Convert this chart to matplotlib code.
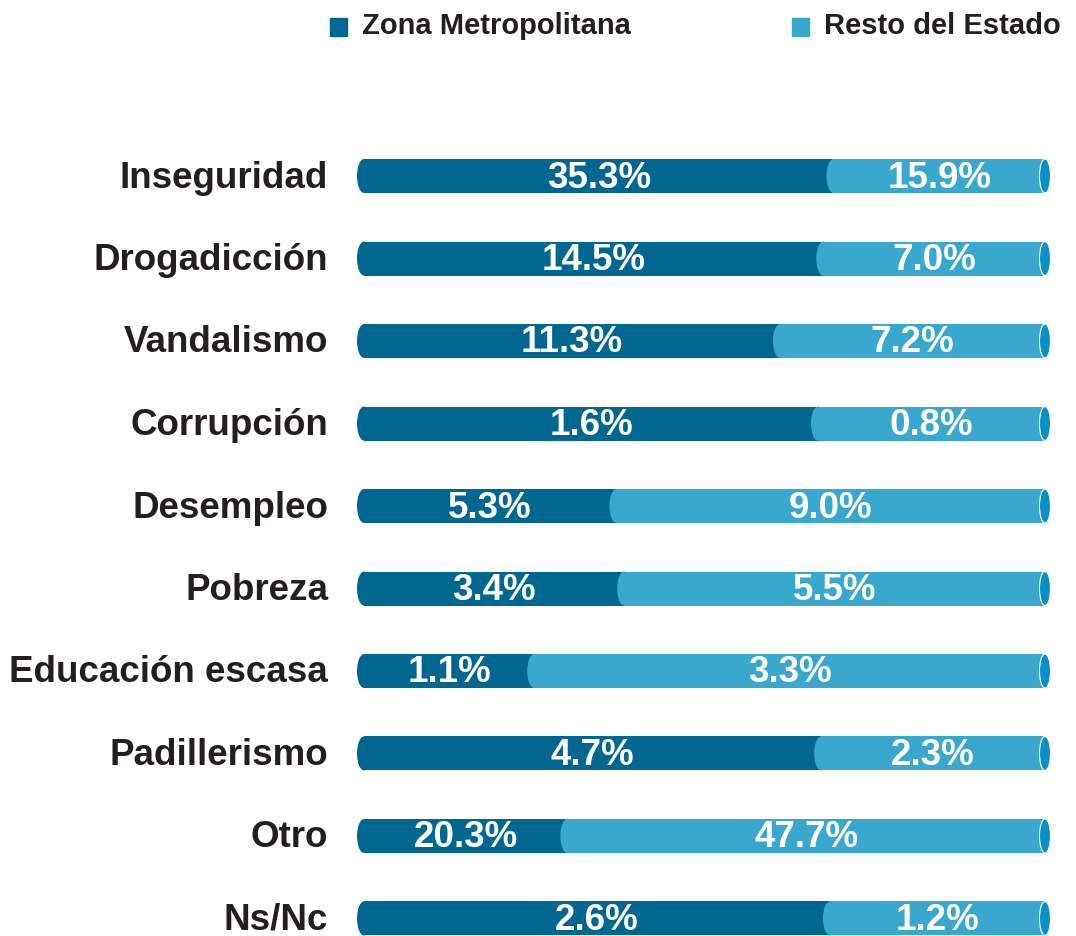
import matplotlib.pyplot as plt
import numpy as np
from matplotlib.patches import Ellipse, Rectangle

plt.rcParams['font.family'] = ['Liberation Sans', 'DejaVu Sans']

# DATOS
categorias = ["Inseguridad", "Drogadicción", "Vandalismo", "Corrupción", "Desempleo",
              "Pobreza", "Educación escasa", "Padillerismo", "Otro", "Ns/Nc"]
zona_metro = [35.3, 14.5, 11.3, 1.6, 5.3, 3.4, 1.1, 4.7, 20.3, 2.6]
resto_estado = [15.9, 7.0, 7.2, 0.8, 9.0, 5.5, 3.3, 2.3, 47.7, 1.2]
series = ["Zona Metropolitana", "Resto del Estado"]

c_dark = '#006890'
c_light = '#38a8cf'
c_cap = '#0a8fc7'
c_text = '#231f20'

W, H = 1076, 936
fig = plt.figure(figsize=(W / 100, H / 100), dpi=100)

# ejes: x = proporcion (0..1) entre 364 px y 1045 px
x0_px, x1_px = 364, 1045
ax = fig.add_axes([x0_px / W, 0, (x1_px - x0_px) / W, 1])
top_px, step_px = 176, 82.5
ax.set_ylim((H - top_px) / step_px, -top_px / step_px)
ax.set_xlim(0, 1)
ax.axis('off')

n = len(categorias)
y = np.arange(n)
zm = np.array(zona_metro)
re = np.array(resto_estado)
frac = zm / (zm + re)

bar_h = 34 / step_px
ell_w = 14 / (x1_px - x0_px)
cap_w = 11 / (x1_px - x0_px)
dy = 2 / step_px  # pequeño ajuste vertical del texto

for i in range(n):
    # tramo oscuro con extremo izquierdo redondeado
    ax.barh(y[i], frac[i], height=bar_h, color=c_dark, lw=0, zorder=2)
    ax.add_patch(Ellipse((0, y[i]), ell_w, bar_h, color=c_dark, lw=0, zorder=2, clip_on=False))
    # tramo claro
    ax.barh(y[i], 1 - frac[i], left=frac[i], height=bar_h, color=c_light, lw=0, zorder=3)
    ax.add_patch(Ellipse((frac[i], y[i]), ell_w, bar_h, color=c_light, lw=0, zorder=3, clip_on=False))
    # tapa derecha
    ax.add_patch(Ellipse((1, y[i]), cap_w, bar_h, facecolor=c_cap, edgecolor='white', lw=0.8,
                         zorder=4, clip_on=False))

    ax.text(frac[i] / 2, y[i] + dy, f"{zm[i]:.1f}%", ha='center', va='center', color='white',
            fontsize=26.5, fontweight='bold', zorder=5)
    ax.text((1 + frac[i]) / 2, y[i] + dy, f"{re[i]:.1f}%", ha='center', va='center', color='white',
            fontsize=26.5, fontweight='bold', zorder=5)
    ax.text(-36 / (x1_px - x0_px), y[i] + dy, categorias[i], ha='right', va='center', color=c_text,
            fontsize=26.5, fontweight='bold', clip_on=False)

# LEYENDA
for sq_x, txt_x, col, lab in [(330, 362, c_dark, series[0]), (792, 824, c_light, series[1])]:
    fig.patches.append(Rectangle((sq_x / W, 1 - 36 / H), 17 / W, 18 / H, color=col,
                                 transform=fig.transFigure))
    fig.text(txt_x / W, 1 - 26 / H, lab, ha='left', va='center', color=c_text,
             fontsize=21, fontweight='bold')

fig.savefig('out.png', dpi=100)
